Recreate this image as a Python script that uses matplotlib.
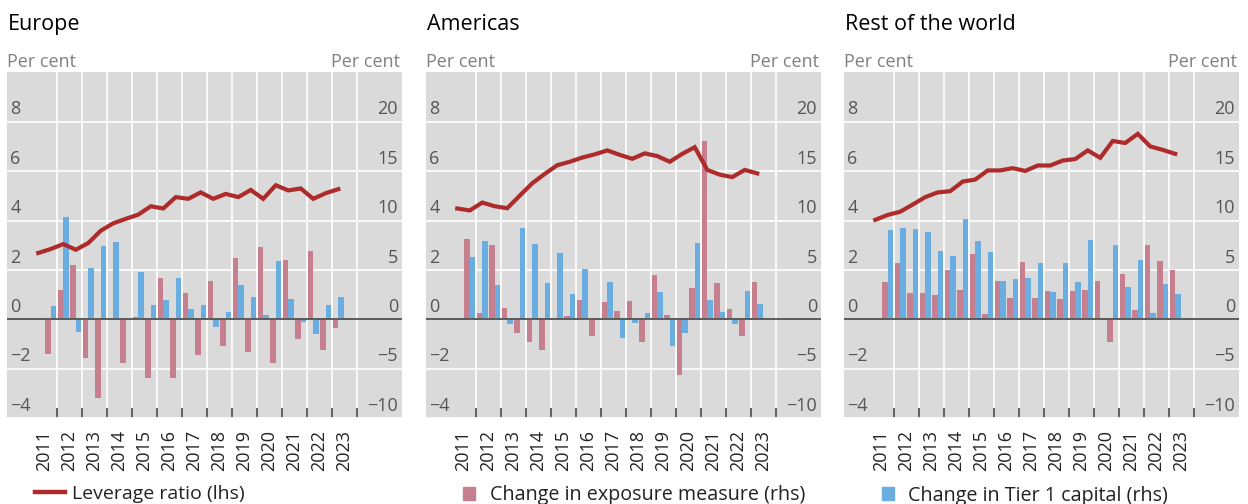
import numpy as np
import matplotlib
matplotlib.use("Agg")
import matplotlib.pyplot as plt
from matplotlib import transforms
from matplotlib.lines import Line2D
from matplotlib.patches import Patch

plt.rcParams["font.family"] = ["Open Sans", "DejaVu Sans"]

# half-yearly observations, 2011 H1 .. 2023 H1
years = list(range(2011, 2024))
periods = [(y, h) for y in years for h in (1, 2)][:-1]

regions = ["Europe", "Americas", "Rest of the world"]

# leverage ratio (lhs, per cent), one value per period
lev_europe = [2.69, 2.85, 3.05, 2.82, 3.09, 3.59, 3.89, 4.07, 4.24, 4.58, 4.49, 4.95, 4.88,
              5.14, 4.88, 5.08, 4.95, 5.24, 4.88, 5.43, 5.22, 5.30, 4.88, 5.11, 5.27]
lev_americas = [4.49, 4.41, 4.73, 4.58, 4.50, 5.01, 5.51, 5.89, 6.24, 6.38, 6.55, 6.68, 6.84,
                6.66, 6.50, 6.72, 6.61, 6.38, 6.70, 6.97, 6.05, 5.86, 5.76, 6.05, 5.91]
lev_row = [4.03, 4.23, 4.36, 4.65, 4.95, 5.14, 5.19, 5.58, 5.66, 6.03, 6.03, 6.12, 6.01,
           6.23, 6.23, 6.43, 6.49, 6.84, 6.54, 7.22, 7.14, 7.51, 7.00, 6.86, 6.70]

# change in exposure measure (rhs, per cent), from 2011 H2
exp_europe = [-3.45, 3.00, 5.54, -3.85, -7.90, 0.17, -4.36, 0.27, -5.88, 4.22, -5.88, 2.70,
              -3.55, 3.92, -2.64, 6.25, -3.34, 7.36, -4.36, 6.05, -1.93, 6.96, -3.14, -0.91]
exp_americas = [8.18, 0.68, 7.50, 1.18, -1.42, -2.33, -3.14, 0.05, 0.37, 2.00, -1.72, 1.79,
                0.88, 1.89, -2.33, 4.53, 0.47, -5.57, 3.20, 18.10, 3.72, 1.08, -1.72, 3.82]
exp_row = [3.78, 5.71, 2.67, 2.67, 2.47, 5.00, 2.97, 6.62, 0.54, 3.89, 2.16, 5.85,
           2.16, 2.87, 2.06, 2.87, 2.97, 3.89, -2.30, 4.59, 0.95, 7.57, 5.91, 5.00]

# change in Tier 1 capital (rhs, per cent), from 2011 H2
t1_europe = [1.39, 10.40, -1.22, 5.24, 7.47, 7.87, -0.05, 4.83, 1.49, 1.99, 4.22, 1.08,
             1.49, -0.81, 0.78, 3.51, 2.30, 0.47, 5.95, 2.09, -0.30, -1.52, 1.49, 2.30]
t1_americas = [6.35, 7.97, 3.51, -0.51, 9.29, 7.67, 3.72, 6.76, 2.60, 5.14, 0.17, 3.82,
               -1.83, -0.41, 0.68, 2.80, -2.64, -1.42, 7.77, 2.00, 0.78, -0.51, 2.91, 1.59]
t1_row = [9.05, 9.26, 9.16, 8.85, 6.89, 6.39, 10.20, 7.97, 6.82, 3.89, 4.05, 4.22,
          5.71, 2.77, 5.71, 3.78, 8.04, 0.14, 7.53, 3.28, 6.01, 0.64, 3.58, 2.57]

lhs_ticks = [-4, -2, 0, 2, 4, 6, 8]
rhs_ticks = [-10, -5, 0, 5, 10, 15, 20]

RED = "#AE2B2B"
PINK = "#C67F8E"
BLUE = "#6AADE0"
BG = "#DADADA"
TICKC = "#555555"

x_line = np.array([y + (0.25 if h == 1 else 0.75) for y, h in periods])
x_bar = x_line[1:]
bw = 0.22

W, H = 1248, 504
lefts = [7, 426, 844]
fig = plt.figure(figsize=(W / 100, H / 100), dpi=100)

data = [(lev_europe, exp_europe, t1_europe),
        (lev_americas, exp_americas, t1_americas),
        (lev_row, exp_row, t1_row)]

for k, (name, (lev, exp, t1)) in enumerate(zip(regions, data)):
    axb = fig.add_axes([lefts[k] / W, (H - 418.3) / H, 395 / W, 346 / H])
    axl = axb.twinx()
    axb.set_facecolor(BG)
    axb.set_axisbelow(True)
    for a in (axb, axl):
        for s in a.spines.values():
            s.set_visible(False)

    axb.set_xlim(2010.0, 2025.8)
    axb.set_ylim(-10, 25)
    axl.set_ylim(-4, 10)

    axb.set_xticks(range(2012, 2025))
    axb.set_xticks([y + 0.5 for y in years], labels=[str(y) for y in years], minor=True)
    axb.tick_params(axis="x", which="major", direction="in", length=7, width=1.3,
                    color=TICKC, labelbottom=False)
    axb.tick_params(axis="x", which="minor", length=0, pad=8.5, labelsize=13,
                    labelcolor="#222222", rotation=90)
    axb.set_yticks(rhs_ticks)
    axb.tick_params(axis="y", length=0, labelleft=False, labelright=False)
    axl.tick_params(axis="y", length=0, labelleft=False, labelright=False)
    axb.grid(True, color="white", lw=1.2)

    axb.bar(x_bar - bw / 2, exp, width=bw, color=PINK, zorder=2)
    axb.bar(x_bar + bw / 2, t1, width=bw, color=BLUE, zorder=2)
    axb.axhline(0, color="#5a5a5a", lw=1.4, zorder=3)
    axl.plot(x_line, lev, color=RED, lw=3.0, solid_joinstyle="miter", zorder=4)

    up = transforms.ScaledTranslation(0, 0.075, fig.dpi_scale_trans)
    tl = transforms.blended_transform_factory(axl.transAxes, axl.transData) + up
    tr = transforms.blended_transform_factory(axb.transAxes, axb.transData) + up
    for v in lhs_ticks:
        axl.text(0.008, v, f"{v}".replace("-", "\u2212"), transform=tl, ha="left",
                 va="baseline", fontsize=13, color=TICKC)
    for v in rhs_ticks:
        axb.text(0.99, v, f"{v}".replace("-", "\u2212"), transform=tr, ha="right",
                 va="baseline", fontsize=13, color=TICKC)

    axl.text(0.0, 1.015, "Per cent", transform=axl.transAxes, ha="left", va="baseline",
             fontsize=13, color="#808080")
    axl.text(0.995, 1.015, "Per cent", transform=axl.transAxes, ha="right", va="baseline",
             fontsize=13, color="#808080")
    axl.text(0.003, 1.122, name, transform=axl.transAxes, ha="left", va="baseline",
             fontsize=15.5, color="black")

    if k == 0:
        handles = [Line2D([], [], color=RED, lw=3.2)]
        labels = ["Leverage ratio (lhs)"]
        kw = dict(fontsize=14, handlelength=1.55, handletextpad=0.35,
                  bbox_to_anchor=(0.071, -0.218))
    elif k == 1:
        handles = [Patch(color=PINK)]
        labels = ["Change in exposure measure (rhs)"]
        kw = dict(fontsize=14.2, handlelength=0.62, handleheight=0.62, handletextpad=0.76,
                  bbox_to_anchor=(0.093, -0.222))
    else:
        handles = [Patch(color=BLUE)]
        labels = ["Change in Tier 1 capital (rhs)"]
        kw = dict(fontsize=14.2, handlelength=0.62, handleheight=0.62, handletextpad=0.72,
                  bbox_to_anchor=(0.0955, -0.224))
    axl.legend(handles, labels, loc="center left", frameon=False,
               borderpad=0, borderaxespad=0, labelcolor="#222222", **kw)

fig.savefig("out.png", dpi=100)
